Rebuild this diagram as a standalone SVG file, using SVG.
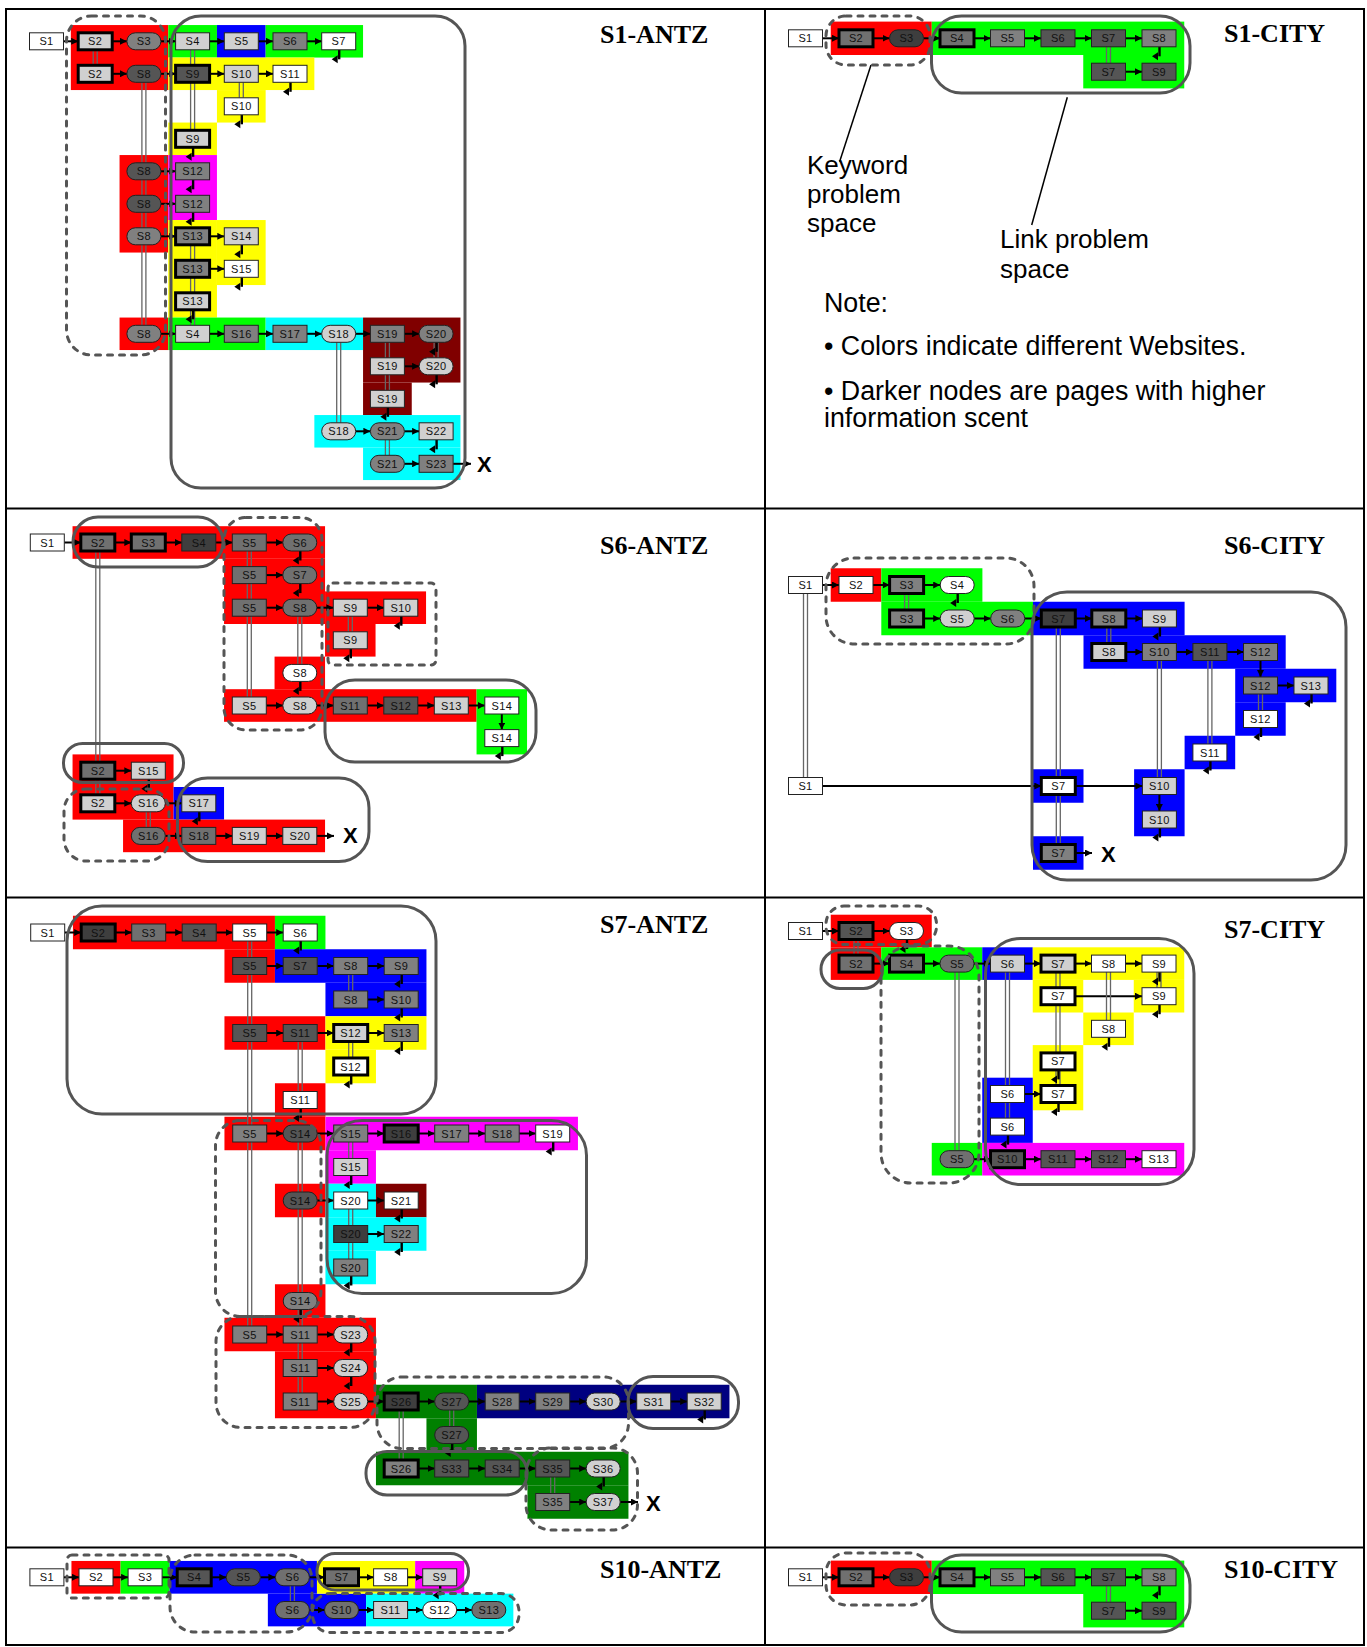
<svg xmlns="http://www.w3.org/2000/svg" xmlns:xlink="http://www.w3.org/1999/xlink" width="1367" height="1647" viewBox="0 0 1367 1647">
<style>
.cr{fill:#ff0000}.cg{fill:#00ff00}.cb{fill:#0000ff}.cy{fill:#ffff00}.cm{fill:#ff00ff}.cc{fill:#00ffff}.cdr{fill:#800000}.cdg{fill:#008000}.cn{fill:#000080}
.n{stroke:#222;stroke-width:1}
.t{stroke:#000;stroke-width:3}
.w{fill:#ffffff}.l{fill:#d0d0d0}.m{fill:#808080}.g{fill:#707070}.d{fill:#555555}.k{fill:#3e3e3e}
.nd text{font-family:"Liberation Sans",Arial,sans-serif;font-size:11px;text-anchor:middle;fill:#111;letter-spacing:0.4px}
.ar{stroke:#000;stroke-width:2;fill:none;marker-end:url(#ah)}
.dl{stroke:#666;stroke-width:1.3;fill:none}
.ds{fill:none;stroke:#555;stroke-width:3;stroke-dasharray:5 7;stroke-linecap:round}
.so{fill:none;stroke:#555;stroke-width:3}
.ti{font-family:"Liberation Serif","Times New Roman",serif;font-weight:bold;font-size:26px;fill:#000}
.an{font-family:"Liberation Sans",Arial,sans-serif;font-size:26px;fill:#000}
.nt{font-family:"Liberation Sans",Arial,sans-serif;font-size:26.8px;fill:#000}
.x{font-family:"Liberation Sans",Arial,sans-serif;font-weight:bold;font-size:22px;fill:#000}
.bd{stroke:#000;stroke-width:2;fill:none}
</style>
<defs>
<marker id="ah" viewBox="0 0 10 10" refX="10" refY="5" markerWidth="7" markerHeight="7" markerUnits="userSpaceOnUse" orient="auto"><path d="M0,0L10,5L0,10z" fill="#000"/></marker>
<rect id="R" x="-17" y="-8.5" width="34" height="17"/>
<rect id="E" x="-17" y="-8.5" width="34" height="17" rx="8.5"/>
<g id="ret"><path d="M0.5,0V9.5" stroke="#000" stroke-width="2.4" fill="none"/><path d="M-7,9.5L-1,5.5V13.5Z" fill="#000"/></g>
</defs>
<rect width="1367" height="1647" fill="#fff"/>

<g id="cells">
<g id="cells-s1antz">
<rect class="cr" x="70.85" y="25.05" width="97.4" height="65"/>
<rect class="cr" x="119.55" y="155.05" width="48.7" height="97.5"/>
<rect class="cr" x="119.55" y="317.55" width="48.7" height="32.5"/>
<rect class="cg" x="168.25" y="25.05" width="48.7" height="32.5"/>
<rect class="cb" x="216.95" y="25.05" width="48.7" height="32.5"/>
<rect class="cg" x="265.65" y="25.05" width="97.4" height="32.5"/>
<rect class="cy" x="168.25" y="57.55" width="146.1" height="32.5"/>
<rect class="cy" x="216.95" y="90.05" width="48.7" height="32.5"/>
<rect class="cy" x="168.25" y="122.55" width="48.7" height="32.5"/>
<rect class="cm" x="168.25" y="155.05" width="48.7" height="65"/>
<rect class="cy" x="168.25" y="220.05" width="48.7" height="97.5"/>
<rect class="cy" x="216.95" y="220.05" width="48.7" height="65"/>
<rect class="cg" x="168.25" y="317.55" width="97.4" height="32.5"/>
<rect class="cc" x="265.65" y="317.55" width="97.4" height="32.5"/>
<rect class="cdr" x="363.05" y="317.55" width="97.4" height="65"/>
<rect class="cdr" x="363.05" y="382.55" width="48.7" height="32.5"/>
<rect class="cc" x="314.35" y="415.05" width="146.1" height="32.5"/>
<rect class="cc" x="363.05" y="447.55" width="97.4" height="32.5"/>
</g>
<g id="cells-s1city">
<rect class="cr" x="830.75" y="21.6" width="101" height="33.4"/>
<rect class="cg" x="931.75" y="21.6" width="252.5" height="33.4"/>
<rect class="cg" x="1083.25" y="55" width="101" height="33.4"/>
</g>
<g id="cells-s10city">
<rect class="cr" x="830.75" y="1560.6" width="101" height="33.4"/>
<rect class="cg" x="931.75" y="1560.6" width="252.5" height="33.4"/>
<rect class="cg" x="1083.25" y="1594" width="101" height="33.4"/>
</g>
<g id="cells-s6antz">
<rect class="cr" x="72.55" y="526.2" width="252.5" height="32.6"/>
<rect class="cr" x="224.05" y="558.8" width="101" height="65.2"/>
<rect class="cr" x="325.05" y="591.4" width="101" height="32.6"/>
<rect class="cr" x="325.05" y="624" width="50.5" height="32.6"/>
<rect class="cr" x="274.55" y="656.6" width="50.5" height="32.6"/>
<rect class="cr" x="224.05" y="689.2" width="252.5" height="32.6"/>
<rect class="cg" x="476.55" y="689.2" width="50.5" height="65.2"/>
<rect class="cr" x="72.55" y="754.4" width="101" height="65.2"/>
<rect class="cb" x="173.55" y="787" width="50.5" height="32.6"/>
<rect class="cr" x="123.05" y="819.6" width="202" height="32.6"/>
</g>
<g id="cells-s6city">
<rect class="cr" x="830.7" y="568.25" width="50.6" height="33.5"/>
<rect class="cg" x="881.3" y="568.25" width="101.1" height="33.5"/>
<rect class="cg" x="881.3" y="601.75" width="151.7" height="33.5"/>
<rect class="cb" x="1033" y="601.75" width="151.6" height="33.5"/>
<rect class="cb" x="1083.5" y="635.25" width="202.2" height="33.5"/>
<rect class="cb" x="1235.2" y="668.75" width="101.1" height="33.5"/>
<rect class="cb" x="1235.2" y="702.25" width="50.5" height="33.5"/>
<rect class="cb" x="1184.6" y="735.75" width="50.6" height="33.5"/>
<rect class="cb" x="1033" y="769.25" width="50.5" height="33.5"/>
<rect class="cb" x="1134.1" y="769.25" width="50.5" height="67"/>
<rect class="cb" x="1033" y="836.25" width="50.5" height="33.5"/>
</g>
<g id="cells-s7antz">
<rect class="cr" x="72.95" y="915.75" width="202" height="33.5"/>
<rect class="cg" x="274.95" y="915.75" width="50.5" height="33.5"/>
<rect class="cr" x="224.45" y="949.25" width="50.5" height="33.5"/>
<rect class="cb" x="274.95" y="949.25" width="151.5" height="33.5"/>
<rect class="cb" x="325.45" y="982.75" width="101" height="33.5"/>
<rect class="cr" x="224.45" y="1016.25" width="101" height="33.5"/>
<rect class="cy" x="325.45" y="1016.25" width="101" height="33.5"/>
<rect class="cy" x="325.45" y="1049.75" width="50.5" height="33.5"/>
<rect class="cr" x="274.95" y="1083.25" width="50.5" height="33.5"/>
<rect class="cr" x="224.45" y="1116.75" width="101" height="33.5"/>
<rect class="cm" x="325.45" y="1116.75" width="252.5" height="33.5"/>
<rect class="cm" x="325.45" y="1150.25" width="50.5" height="33.5"/>
<rect class="cr" x="274.95" y="1183.75" width="50.5" height="33.5"/>
<rect class="cc" x="325.45" y="1183.75" width="50.5" height="33.5"/>
<rect class="cdr" x="375.95" y="1183.75" width="50.5" height="33.5"/>
<rect class="cc" x="325.45" y="1217.25" width="101" height="33.5"/>
<rect class="cc" x="325.45" y="1250.75" width="50.5" height="33.5"/>
<rect class="cr" x="274.95" y="1284.25" width="50.5" height="33.5"/>
<rect class="cr" x="224.45" y="1317.75" width="151.5" height="33.5"/>
<rect class="cr" x="274.95" y="1351.25" width="101" height="67"/>
<rect class="cdg" x="375.95" y="1384.75" width="101" height="33.5"/>
<rect class="cn" x="476.95" y="1384.75" width="252.5" height="33.5"/>
<rect class="cdg" x="426.45" y="1418.25" width="50.5" height="33.5"/>
<rect class="cdg" x="375.95" y="1451.75" width="252.5" height="33.5"/>
<rect class="cdg" x="527.45" y="1485.25" width="101" height="33.5"/>
</g>
<g id="cells-s7city">
<rect class="cr" x="830.75" y="914.7" width="101" height="32.6"/>
<rect class="cr" x="830.75" y="947.3" width="50.5" height="32.6"/>
<rect class="cg" x="881.25" y="947.3" width="101" height="32.6"/>
<rect class="cb" x="982.25" y="947.3" width="50.5" height="32.6"/>
<rect class="cy" x="1032.75" y="947.3" width="151.5" height="32.6"/>
<rect class="cy" x="1032.75" y="979.9" width="50.5" height="32.6"/>
<rect class="cy" x="1133.75" y="979.9" width="50.5" height="32.6"/>
<rect class="cy" x="1083.25" y="1012.5" width="50.5" height="32.6"/>
<rect class="cy" x="1032.75" y="1045.1" width="50.5" height="65.2"/>
<rect class="cb" x="982.25" y="1077.7" width="50.5" height="65.2"/>
<rect class="cg" x="931.75" y="1142.9" width="50.5" height="32.6"/>
<rect class="cm" x="982.25" y="1142.9" width="202" height="32.6"/>
</g>
<g id="cells-s10antz">
<rect class="cr" x="71.45" y="1560.95" width="49.1" height="32.7"/>
<rect class="cg" x="120.55" y="1560.95" width="49.1" height="32.7"/>
<rect class="cb" x="169.65" y="1560.95" width="147.3" height="32.7"/>
<rect class="cb" x="267.85" y="1593.65" width="98.2" height="32.7"/>
<rect class="cy" x="316.95" y="1560.95" width="98.2" height="32.7"/>
<rect class="cm" x="415.15" y="1560.95" width="49.1" height="32.7"/>
<rect class="cc" x="366.05" y="1593.65" width="147.3" height="32.7"/>
</g>
</g>

<g id="connectors">
<g id="conn-s1antz">
<line class="ar" x1="63.5" y1="41.3" x2="78.2" y2="41.3"/><line class="ar" x1="112.2" y1="41.3" x2="126.9" y2="41.3"/><line class="ar" x1="160.9" y1="41.3" x2="175.6" y2="41.3"/><line class="ar" x1="209.6" y1="41.3" x2="224.3" y2="41.3"/><line class="ar" x1="258.3" y1="41.3" x2="273" y2="41.3"/><line class="ar" x1="307" y1="41.3" x2="321.7" y2="41.3"/>
<line class="ar" x1="112.2" y1="73.8" x2="126.9" y2="73.8"/><line class="ar" x1="160.9" y1="73.8" x2="175.6" y2="73.8"/><line class="ar" x1="209.6" y1="73.8" x2="224.3" y2="73.8"/><line class="ar" x1="258.3" y1="73.8" x2="273" y2="73.8"/>
<line class="ar" x1="160.9" y1="171.3" x2="175.6" y2="171.3"/><line class="ar" x1="160.9" y1="203.8" x2="175.6" y2="203.8"/>
<line class="ar" x1="160.9" y1="236.3" x2="175.6" y2="236.3"/><line class="ar" x1="209.6" y1="236.3" x2="224.3" y2="236.3"/><line class="ar" x1="209.6" y1="268.8" x2="224.3" y2="268.8"/>
<line class="ar" x1="160.9" y1="333.8" x2="175.6" y2="333.8"/><line class="ar" x1="209.6" y1="333.8" x2="224.3" y2="333.8"/><line class="ar" x1="258.3" y1="333.8" x2="273" y2="333.8"/><line class="ar" x1="307" y1="333.8" x2="321.7" y2="333.8"/><line class="ar" x1="355.7" y1="333.8" x2="370.4" y2="333.8"/><line class="ar" x1="404.4" y1="333.8" x2="419.1" y2="333.8"/>
<line class="ar" x1="404.4" y1="366.3" x2="419.1" y2="366.3"/>
<line class="ar" x1="355.7" y1="431.3" x2="370.4" y2="431.3"/><line class="ar" x1="404.4" y1="431.3" x2="419.1" y2="431.3"/>
<line class="ar" x1="404.4" y1="463.8" x2="419.1" y2="463.8"/><line class="ar" x1="453.1" y1="463.8" x2="471" y2="463.8"/>
<path class="dl" d="M93.2,49.8V65.3M97.2,49.8V65.3M141.9,82.3V325.3M145.9,82.3V325.3M190.6,49.8V130.3M194.6,49.8V130.3M190.6,244.8V325.3M194.6,244.8V325.3M239.3,82.3V97.8M243.3,82.3V97.8M336.7,342.3V422.8M340.7,342.3V422.8M385.4,342.3V390.3M389.4,342.3V390.3M434.1,342.3V357.8M438.1,342.3V357.8M385.4,439.8V455.3M389.4,439.8V455.3"/>
<use href="#ret" x="338.7" y="49.8"/><use href="#ret" x="290" y="82.3"/><use href="#ret" x="241.3" y="114.8"/><use href="#ret" x="192.6" y="147.3"/><use href="#ret" x="192.6" y="179.8"/><use href="#ret" x="192.6" y="212.3"/><use href="#ret" x="241.3" y="244.8"/><use href="#ret" x="241.3" y="277.3"/><use href="#ret" x="192.6" y="309.8"/><use href="#ret" x="436.1" y="342.3"/><use href="#ret" x="436.1" y="374.8"/><use href="#ret" x="387.4" y="407.3"/><use href="#ret" x="436.1" y="439.8"/>
</g>
<g id="conn-s1city">
<line class="ar" x1="822.5" y1="38.3" x2="839" y2="38.3"/><line class="ar" x1="873" y1="38.3" x2="889.5" y2="38.3"/><line class="ar" x1="923.5" y1="38.3" x2="940" y2="38.3"/><line class="ar" x1="974" y1="38.3" x2="990.5" y2="38.3"/><line class="ar" x1="1024.5" y1="38.3" x2="1041" y2="38.3"/><line class="ar" x1="1075" y1="38.3" x2="1091.5" y2="38.3"/><line class="ar" x1="1125.5" y1="38.3" x2="1142" y2="38.3"/>
<line class="ar" x1="1125.5" y1="71.7" x2="1142" y2="71.7"/>
<path class="dl" d="M1106.5,46.8V63.2M1110.5,46.8V63.2"/>
<use href="#ret" x="1159" y="46.8"/>
<line x1="871" y1="65" x2="839.6" y2="161.7" stroke="#000" stroke-width="1.5"/>
<line x1="1067.3" y1="97.3" x2="1031.7" y2="225" stroke="#000" stroke-width="1.5"/>
</g>
<g id="conn-s10city">
<line class="ar" x1="822.5" y1="1577.3" x2="839" y2="1577.3"/><line class="ar" x1="873" y1="1577.3" x2="889.5" y2="1577.3"/><line class="ar" x1="923.5" y1="1577.3" x2="940" y2="1577.3"/><line class="ar" x1="974" y1="1577.3" x2="990.5" y2="1577.3"/><line class="ar" x1="1024.5" y1="1577.3" x2="1041" y2="1577.3"/><line class="ar" x1="1075" y1="1577.3" x2="1091.5" y2="1577.3"/><line class="ar" x1="1125.5" y1="1577.3" x2="1142" y2="1577.3"/>
<line class="ar" x1="1125.5" y1="1610.7" x2="1142" y2="1610.7"/>
<path class="dl" d="M1106.5,1585.8V1602.2M1110.5,1585.8V1602.2"/>
<use href="#ret" x="1159" y="1585.8"/>
</g>
<g id="conn-s6antz">
<line class="ar" x1="64.3" y1="542.5" x2="80.8" y2="542.5"/><line class="ar" x1="114.8" y1="542.5" x2="131.3" y2="542.5"/><line class="ar" x1="165.3" y1="542.5" x2="181.8" y2="542.5"/><line class="ar" x1="215.8" y1="542.5" x2="232.3" y2="542.5"/><line class="ar" x1="266.3" y1="542.5" x2="282.8" y2="542.5"/>
<line class="ar" x1="266.3" y1="575.1" x2="282.8" y2="575.1"/>
<line class="ar" x1="266.3" y1="607.7" x2="282.8" y2="607.7"/><line class="ar" x1="316.8" y1="607.7" x2="333.3" y2="607.7"/><line class="ar" x1="367.3" y1="607.7" x2="383.8" y2="607.7"/>
<line class="ar" x1="266.3" y1="705.5" x2="282.8" y2="705.5"/><line class="ar" x1="316.8" y1="705.5" x2="333.3" y2="705.5"/><line class="ar" x1="367.3" y1="705.5" x2="383.8" y2="705.5"/><line class="ar" x1="417.8" y1="705.5" x2="434.3" y2="705.5"/><line class="ar" x1="468.3" y1="705.5" x2="484.8" y2="705.5"/>
<line class="ar" x1="501.8" y1="714" x2="501.8" y2="729.6"/>
<line class="ar" x1="114.8" y1="770.7" x2="131.3" y2="770.7"/>
<line class="ar" x1="114.8" y1="803.3" x2="131.3" y2="803.3"/><line class="ar" x1="165.3" y1="803.3" x2="181.8" y2="803.3"/>
<line class="ar" x1="165.3" y1="835.9" x2="181.8" y2="835.9"/><line class="ar" x1="215.8" y1="835.9" x2="232.3" y2="835.9"/><line class="ar" x1="266.3" y1="835.9" x2="282.8" y2="835.9"/><line class="ar" x1="316.8" y1="835.9" x2="334" y2="835.9"/>
<path class="dl" d="M95.8,551V794.8M99.8,551V794.8M247.3,551V697M251.3,551V697M297.8,616.2V664.4M301.8,616.2V664.4M348.3,616.2V631.8M352.3,616.2V631.8M146.3,811.8V827.4M150.3,811.8V827.4"/>
<use href="#ret" x="299.8" y="551"/><use href="#ret" x="299.8" y="583.6"/><use href="#ret" x="400.8" y="616.2"/><use href="#ret" x="350.3" y="648.8"/><use href="#ret" x="299.8" y="681.4"/><use href="#ret" x="501.8" y="746.6"/><use href="#ret" x="148.3" y="779.2"/><use href="#ret" x="198.8" y="811.8"/>
</g>
<g id="conn-s6city">
<line class="ar" x1="822.5" y1="585" x2="839" y2="585"/><line class="ar" x1="873" y1="585" x2="889.6" y2="585"/><line class="ar" x1="923.6" y1="585" x2="940.2" y2="585"/>
<line class="ar" x1="923.6" y1="618.5" x2="940.2" y2="618.5"/><line class="ar" x1="974.2" y1="618.5" x2="990.7" y2="618.5"/><line class="ar" x1="1024.7" y1="618.5" x2="1041.3" y2="618.5"/><line class="ar" x1="1075.3" y1="618.5" x2="1091.8" y2="618.5"/><line class="ar" x1="1125.8" y1="618.5" x2="1142.4" y2="618.5"/>
<line class="ar" x1="1125.8" y1="652" x2="1142.4" y2="652"/><line class="ar" x1="1176.4" y1="652" x2="1192.9" y2="652"/><line class="ar" x1="1226.9" y1="652" x2="1243.5" y2="652"/>
<line class="ar" x1="1277.5" y1="685.5" x2="1294" y2="685.5"/>
<line class="ar" x1="1260.5" y1="660.5" x2="1260.5" y2="677"/>
<line class="ar" x1="822.5" y1="786" x2="1041.3" y2="786"/><line class="ar" x1="1075.3" y1="786" x2="1142.4" y2="786"/>
<line class="ar" x1="1159.4" y1="794.5" x2="1159.4" y2="811"/>
<line class="ar" x1="1075.3" y1="853" x2="1092" y2="853"/>
<path class="dl" d="M803.5,593.5V777.5M807.5,593.5V777.5M904.6,593.5V610M908.6,593.5V610M1056.3,627V844.5M1060.3,627V844.5M1106.8,627V643.5M1110.8,627V643.5M1157.4,660.5V777.5M1161.4,660.5V777.5M1207.9,660.5V744M1211.9,660.5V744M1258.5,694V710.5M1262.5,694V710.5"/>
<use href="#ret" x="957.2" y="593.5"/><use href="#ret" x="1159.4" y="627"/><use href="#ret" x="1311" y="694"/><use href="#ret" x="1260.5" y="727.5"/><use href="#ret" x="1209.9" y="761"/><use href="#ret" x="1159.4" y="828"/>
</g>
<g id="conn-s7antz">
<line class="ar" x1="64.7" y1="932.5" x2="81.2" y2="932.5"/><line class="ar" x1="115.2" y1="932.5" x2="131.7" y2="932.5"/><line class="ar" x1="165.7" y1="932.5" x2="182.2" y2="932.5"/><line class="ar" x1="216.2" y1="932.5" x2="232.7" y2="932.5"/><line class="ar" x1="266.7" y1="932.5" x2="283.2" y2="932.5"/>
<line class="ar" x1="266.7" y1="966" x2="283.2" y2="966"/><line class="ar" x1="317.2" y1="966" x2="333.7" y2="966"/><line class="ar" x1="367.7" y1="966" x2="384.2" y2="966"/>
<line class="ar" x1="367.7" y1="999.5" x2="384.2" y2="999.5"/>
<line class="ar" x1="266.7" y1="1033" x2="283.2" y2="1033"/><line class="ar" x1="317.2" y1="1033" x2="333.7" y2="1033"/><line class="ar" x1="367.7" y1="1033" x2="384.2" y2="1033"/>
<line class="ar" x1="266.7" y1="1133.5" x2="283.2" y2="1133.5"/><line class="ar" x1="317.2" y1="1133.5" x2="333.7" y2="1133.5"/><line class="ar" x1="367.7" y1="1133.5" x2="384.2" y2="1133.5"/><line class="ar" x1="418.2" y1="1133.5" x2="434.7" y2="1133.5"/><line class="ar" x1="468.7" y1="1133.5" x2="485.2" y2="1133.5"/><line class="ar" x1="519.2" y1="1133.5" x2="535.7" y2="1133.5"/>
<line class="ar" x1="317.2" y1="1200.5" x2="333.7" y2="1200.5"/><line class="ar" x1="367.7" y1="1200.5" x2="384.2" y2="1200.5"/>
<line class="ar" x1="367.7" y1="1234" x2="384.2" y2="1234"/>
<line class="ar" x1="266.7" y1="1334.5" x2="283.2" y2="1334.5"/><line class="ar" x1="317.2" y1="1334.5" x2="333.7" y2="1334.5"/>
<line class="ar" x1="317.2" y1="1368" x2="333.7" y2="1368"/>
<line class="ar" x1="317.2" y1="1401.5" x2="333.7" y2="1401.5"/><line class="ar" x1="367.7" y1="1401.5" x2="384.2" y2="1401.5"/><line class="ar" x1="418.2" y1="1401.5" x2="434.7" y2="1401.5"/><line class="ar" x1="468.7" y1="1401.5" x2="485.2" y2="1401.5"/><line class="ar" x1="519.2" y1="1401.5" x2="535.7" y2="1401.5"/><line class="ar" x1="569.7" y1="1401.5" x2="586.2" y2="1401.5"/><line class="ar" x1="620.2" y1="1401.5" x2="636.7" y2="1401.5"/><line class="ar" x1="670.7" y1="1401.5" x2="687.2" y2="1401.5"/>
<line class="ar" x1="418.2" y1="1468.5" x2="434.7" y2="1468.5"/><line class="ar" x1="468.7" y1="1468.5" x2="485.2" y2="1468.5"/><line class="ar" x1="519.2" y1="1468.5" x2="535.7" y2="1468.5"/><line class="ar" x1="569.7" y1="1468.5" x2="586.2" y2="1468.5"/>
<line class="ar" x1="569.7" y1="1502" x2="586.2" y2="1502"/><line class="ar" x1="620.2" y1="1502" x2="638" y2="1502"/>
<path class="dl" d="M247.7,941V1326M251.7,941V1326M298.2,1041.5V1091.5M302.2,1041.5V1091.5M298.2,1142V1393M302.2,1142V1393M348.7,974.5V991M352.7,974.5V991M348.7,1041.5V1058M352.7,1041.5V1058M348.7,1142V1158.5M352.7,1142V1158.5M348.7,1209V1259M352.7,1209V1259M399.2,1410V1460M403.2,1410V1460M449.7,1410V1426.5M453.7,1410V1426.5M550.7,1477V1493.5M554.7,1477V1493.5"/>
<use href="#ret" x="300.2" y="941"/><use href="#ret" x="401.2" y="974.5"/><use href="#ret" x="401.2" y="1008"/><use href="#ret" x="401.2" y="1041.5"/><use href="#ret" x="350.7" y="1075"/><use href="#ret" x="300.2" y="1108.5"/><use href="#ret" x="552.7" y="1142"/><use href="#ret" x="350.7" y="1175.5"/><use href="#ret" x="401.2" y="1209"/><use href="#ret" x="401.2" y="1242.5"/><use href="#ret" x="350.7" y="1276"/><use href="#ret" x="300.2" y="1309.5"/><use href="#ret" x="350.7" y="1343"/><use href="#ret" x="350.7" y="1376.5"/><use href="#ret" x="704.2" y="1410"/><use href="#ret" x="451.7" y="1443.5"/><use href="#ret" x="603.2" y="1477"/>
</g>
<g id="conn-s7city">
<line class="ar" x1="822.5" y1="931" x2="839" y2="931"/><line class="ar" x1="873" y1="931" x2="889.5" y2="931"/>
<line class="ar" x1="873" y1="963.6" x2="889.5" y2="963.6"/><line class="ar" x1="923.5" y1="963.6" x2="940" y2="963.6"/><line class="ar" x1="974" y1="963.6" x2="990.5" y2="963.6"/><line class="ar" x1="1024.5" y1="963.6" x2="1041" y2="963.6"/><line class="ar" x1="1075" y1="963.6" x2="1091.5" y2="963.6"/><line class="ar" x1="1125.5" y1="963.6" x2="1142" y2="963.6"/>
<line class="ar" x1="1075" y1="996.2" x2="1142" y2="996.2"/>
<line class="ar" x1="1024.5" y1="1094" x2="1041" y2="1094"/>
<line class="ar" x1="974" y1="1159.2" x2="990.5" y2="1159.2"/><line class="ar" x1="1024.5" y1="1159.2" x2="1041" y2="1159.2"/><line class="ar" x1="1075" y1="1159.2" x2="1091.5" y2="1159.2"/><line class="ar" x1="1125.5" y1="1159.2" x2="1142" y2="1159.2"/>
<path class="dl" d="M854,939.5V955.1M858,939.5V955.1M955,972.1V1150.7M959,972.1V1150.7M1005.5,972.1V1118.1M1009.5,972.1V1118.1M1056,972.1V1085.5M1060,972.1V1085.5M1106.5,972.1V1020.3M1110.5,972.1V1020.3M1157,972.1V987.7M1161,972.1V987.7"/>
<use href="#ret" x="906.5" y="939.5"/><use href="#ret" x="1159" y="972.1"/><use href="#ret" x="1159" y="1004.7"/><use href="#ret" x="1108.5" y="1037.3"/><use href="#ret" x="1058" y="1069.9"/><use href="#ret" x="1058" y="1102.5"/><use href="#ret" x="1007.5" y="1135.1"/>
</g>
<g id="conn-s10antz">
<line class="ar" x1="63.9" y1="1577.3" x2="79" y2="1577.3"/><line class="ar" x1="113" y1="1577.3" x2="128.1" y2="1577.3"/><line class="ar" x1="162.1" y1="1577.3" x2="177.2" y2="1577.3"/><line class="ar" x1="211.2" y1="1577.3" x2="226.3" y2="1577.3"/><line class="ar" x1="260.3" y1="1577.3" x2="275.4" y2="1577.3"/><line class="ar" x1="309.4" y1="1577.3" x2="324.5" y2="1577.3"/><line class="ar" x1="358.5" y1="1577.3" x2="373.6" y2="1577.3"/><line class="ar" x1="407.6" y1="1577.3" x2="422.7" y2="1577.3"/>
<line class="ar" x1="309.4" y1="1610" x2="324.5" y2="1610"/><line class="ar" x1="358.5" y1="1610" x2="373.6" y2="1610"/><line class="ar" x1="407.6" y1="1610" x2="422.7" y2="1610"/><line class="ar" x1="456.7" y1="1610" x2="471.8" y2="1610"/>
<path class="dl" d="M290.4,1585.8V1601.5M294.4,1585.8V1601.5"/>
<use href="#ret" x="439.7" y="1585.8"/>
</g>
</g>

<g id="nodes">
<g id="nodes-s1antz">
<g id="a01" class="nd" transform="translate(46.5,41.3)"><use href="#R" class="n w"/><text y="4">S1</text></g>
<g id="a02" class="nd" transform="translate(95.2,41.3)"><use href="#R" class="n l t"/><text y="4">S2</text></g>
<g id="a03" class="nd" transform="translate(143.9,41.3)"><use href="#E" class="n m"/><text y="4">S3</text></g>
<g id="a04" class="nd" transform="translate(192.6,41.3)"><use href="#R" class="n l"/><text y="4">S4</text></g>
<g id="a05" class="nd" transform="translate(241.3,41.3)"><use href="#R" class="n l"/><text y="4">S5</text></g>
<g id="a06" class="nd" transform="translate(290,41.3)"><use href="#R" class="n m"/><text y="4">S6</text></g>
<g id="a07" class="nd" transform="translate(338.7,41.3)"><use href="#R" class="n w"/><text y="4">S7</text></g>
<g id="a08" class="nd" transform="translate(95.2,73.8)"><use href="#R" class="n l t"/><text y="4">S2</text></g>
<g id="a09" class="nd" transform="translate(143.9,73.8)"><use href="#E" class="n d"/><text y="4">S8</text></g>
<g id="a10" class="nd" transform="translate(192.6,73.8)"><use href="#R" class="n d t"/><text y="4">S9</text></g>
<g id="a11" class="nd" transform="translate(241.3,73.8)"><use href="#R" class="n l"/><text y="4">S10</text></g>
<g id="a12" class="nd" transform="translate(290,73.8)"><use href="#R" class="n w"/><text y="4">S11</text></g>
<g id="a13" class="nd" transform="translate(241.3,106.3)"><use href="#R" class="n w"/><text y="4">S10</text></g>
<g id="a14" class="nd" transform="translate(192.6,138.8)"><use href="#R" class="n l t"/><text y="4">S9</text></g>
<g id="a15" class="nd" transform="translate(143.9,171.3)"><use href="#E" class="n d"/><text y="4">S8</text></g>
<g id="a16" class="nd" transform="translate(192.6,171.3)"><use href="#R" class="n m"/><text y="4">S12</text></g>
<g id="a17" class="nd" transform="translate(143.9,203.8)"><use href="#E" class="n d"/><text y="4">S8</text></g>
<g id="a18" class="nd" transform="translate(192.6,203.8)"><use href="#R" class="n m"/><text y="4">S12</text></g>
<g id="a19" class="nd" transform="translate(143.9,236.3)"><use href="#E" class="n m"/><text y="4">S8</text></g>
<g id="a20" class="nd" transform="translate(192.6,236.3)"><use href="#R" class="n m t"/><text y="4">S13</text></g>
<g id="a21" class="nd" transform="translate(241.3,236.3)"><use href="#R" class="n l"/><text y="4">S14</text></g>
<g id="a22" class="nd" transform="translate(192.6,268.8)"><use href="#R" class="n m t"/><text y="4">S13</text></g>
<g id="a23" class="nd" transform="translate(241.3,268.8)"><use href="#R" class="n w"/><text y="4">S15</text></g>
<g id="a24" class="nd" transform="translate(192.6,301.3)"><use href="#R" class="n l t"/><text y="4">S13</text></g>
<g id="a25" class="nd" transform="translate(143.9,333.8)"><use href="#E" class="n m"/><text y="4">S8</text></g>
<g id="a26" class="nd" transform="translate(192.6,333.8)"><use href="#R" class="n l"/><text y="4">S4</text></g>
<g id="a27" class="nd" transform="translate(241.3,333.8)"><use href="#R" class="n m"/><text y="4">S16</text></g>
<g id="a28" class="nd" transform="translate(290,333.8)"><use href="#R" class="n m"/><text y="4">S17</text></g>
<g id="a29" class="nd" transform="translate(338.7,333.8)"><use href="#E" class="n l"/><text y="4">S18</text></g>
<g id="a30" class="nd" transform="translate(387.4,333.8)"><use href="#R" class="n m"/><text y="4">S19</text></g>
<g id="a31" class="nd" transform="translate(436.1,333.8)"><use href="#E" class="n m"/><text y="4">S20</text></g>
<g id="a32" class="nd" transform="translate(387.4,366.3)"><use href="#R" class="n l"/><text y="4">S19</text></g>
<g id="a33" class="nd" transform="translate(436.1,366.3)"><use href="#E" class="n l"/><text y="4">S20</text></g>
<g id="a34" class="nd" transform="translate(387.4,398.8)"><use href="#R" class="n l"/><text y="4">S19</text></g>
<g id="a35" class="nd" transform="translate(338.7,431.3)"><use href="#E" class="n l"/><text y="4">S18</text></g>
<g id="a36" class="nd" transform="translate(387.4,431.3)"><use href="#E" class="n m"/><text y="4">S21</text></g>
<g id="a37" class="nd" transform="translate(436.1,431.3)"><use href="#R" class="n l"/><text y="4">S22</text></g>
<g id="a38" class="nd" transform="translate(387.4,463.8)"><use href="#E" class="n m"/><text y="4">S21</text></g>
<g id="a39" class="nd" transform="translate(436.1,463.8)"><use href="#R" class="n m"/><text y="4">S23</text></g>
</g>
<g id="nodes-s1city">
<g id="b01" class="nd" transform="translate(805.5,38.3)"><use href="#R" class="n w"/><text y="4">S1</text></g>
<g id="b02" class="nd" transform="translate(856,38.3)"><use href="#R" class="n g t"/><text y="4">S2</text></g>
<g id="b03" class="nd" transform="translate(906.5,38.3)"><use href="#E" class="n k"/><text y="4">S3</text></g>
<g id="b04" class="nd" transform="translate(957,38.3)"><use href="#R" class="n g t"/><text y="4">S4</text></g>
<g id="b05" class="nd" transform="translate(1007.5,38.3)"><use href="#R" class="n m"/><text y="4">S5</text></g>
<g id="b06" class="nd" transform="translate(1058,38.3)"><use href="#R" class="n d"/><text y="4">S6</text></g>
<g id="b07" class="nd" transform="translate(1108.5,38.3)"><use href="#R" class="n d"/><text y="4">S7</text></g>
<g id="b08" class="nd" transform="translate(1159,38.3)"><use href="#R" class="n m"/><text y="4">S8</text></g>
<g id="b09" class="nd" transform="translate(1108.5,71.7)"><use href="#R" class="n d"/><text y="4">S7</text></g>
<g id="b10" class="nd" transform="translate(1159,71.7)"><use href="#R" class="n d"/><text y="4">S9</text></g>
</g>
<g id="nodes-s10city">
<g id="h01" class="nd" transform="translate(805.5,1577.3)"><use href="#R" class="n w"/><text y="4">S1</text></g>
<g id="h02" class="nd" transform="translate(856,1577.3)"><use href="#R" class="n g t"/><text y="4">S2</text></g>
<g id="h03" class="nd" transform="translate(906.5,1577.3)"><use href="#E" class="n k"/><text y="4">S3</text></g>
<g id="h04" class="nd" transform="translate(957,1577.3)"><use href="#R" class="n g t"/><text y="4">S4</text></g>
<g id="h05" class="nd" transform="translate(1007.5,1577.3)"><use href="#R" class="n m"/><text y="4">S5</text></g>
<g id="h06" class="nd" transform="translate(1058,1577.3)"><use href="#R" class="n d"/><text y="4">S6</text></g>
<g id="h07" class="nd" transform="translate(1108.5,1577.3)"><use href="#R" class="n d"/><text y="4">S7</text></g>
<g id="h08" class="nd" transform="translate(1159,1577.3)"><use href="#R" class="n m"/><text y="4">S8</text></g>
<g id="h09" class="nd" transform="translate(1108.5,1610.7)"><use href="#R" class="n d"/><text y="4">S7</text></g>
<g id="h10" class="nd" transform="translate(1159,1610.7)"><use href="#R" class="n d"/><text y="4">S9</text></g>
</g>
<g id="nodes-s6antz">
<g id="c01" class="nd" transform="translate(47.3,542.5)"><use href="#R" class="n w"/><text y="4">S1</text></g>
<g id="c02" class="nd" transform="translate(97.8,542.5)"><use href="#R" class="n g t"/><text y="4">S2</text></g>
<g id="c03" class="nd" transform="translate(148.3,542.5)"><use href="#R" class="n g t"/><text y="4">S3</text></g>
<g id="c04" class="nd" transform="translate(198.8,542.5)"><use href="#R" class="n k"/><text y="4">S4</text></g>
<g id="c05" class="nd" transform="translate(249.3,542.5)"><use href="#R" class="n g"/><text y="4">S5</text></g>
<g id="c06" class="nd" transform="translate(299.8,542.5)"><use href="#E" class="n g"/><text y="4">S6</text></g>
<g id="c07" class="nd" transform="translate(249.3,575.1)"><use href="#R" class="n g"/><text y="4">S5</text></g>
<g id="c08" class="nd" transform="translate(299.8,575.1)"><use href="#E" class="n g"/><text y="4">S7</text></g>
<g id="c09" class="nd" transform="translate(249.3,607.7)"><use href="#R" class="n g"/><text y="4">S5</text></g>
<g id="c10" class="nd" transform="translate(299.8,607.7)"><use href="#E" class="n g"/><text y="4">S8</text></g>
<g id="c11" class="nd" transform="translate(350.3,607.7)"><use href="#R" class="n l"/><text y="4">S9</text></g>
<g id="c12" class="nd" transform="translate(400.8,607.7)"><use href="#R" class="n l"/><text y="4">S10</text></g>
<g id="c13" class="nd" transform="translate(350.3,640.3)"><use href="#R" class="n l"/><text y="4">S9</text></g>
<g id="c14" class="nd" transform="translate(299.8,672.9)"><use href="#E" class="n w"/><text y="4">S8</text></g>
<g id="c15" class="nd" transform="translate(249.3,705.5)"><use href="#R" class="n l"/><text y="4">S5</text></g>
<g id="c16" class="nd" transform="translate(299.8,705.5)"><use href="#E" class="n l"/><text y="4">S8</text></g>
<g id="c17" class="nd" transform="translate(350.3,705.5)"><use href="#R" class="n g"/><text y="4">S11</text></g>
<g id="c18" class="nd" transform="translate(400.8,705.5)"><use href="#R" class="n d"/><text y="4">S12</text></g>
<g id="c19" class="nd" transform="translate(451.3,705.5)"><use href="#R" class="n l"/><text y="4">S13</text></g>
<g id="c20" class="nd" transform="translate(501.8,705.5)"><use href="#R" class="n w"/><text y="4">S14</text></g>
<g id="c21" class="nd" transform="translate(501.8,738.1)"><use href="#R" class="n w"/><text y="4">S14</text></g>
<g id="c22" class="nd" transform="translate(97.8,770.7)"><use href="#R" class="n g t"/><text y="4">S2</text></g>
<g id="c23" class="nd" transform="translate(148.3,770.7)"><use href="#R" class="n l"/><text y="4">S15</text></g>
<g id="c24" class="nd" transform="translate(97.8,803.3)"><use href="#R" class="n l t"/><text y="4">S2</text></g>
<g id="c25" class="nd" transform="translate(148.3,803.3)"><use href="#E" class="n l"/><text y="4">S16</text></g>
<g id="c26" class="nd" transform="translate(198.8,803.3)"><use href="#R" class="n l"/><text y="4">S17</text></g>
<g id="c27" class="nd" transform="translate(148.3,835.9)"><use href="#E" class="n g"/><text y="4">S16</text></g>
<g id="c28" class="nd" transform="translate(198.8,835.9)"><use href="#R" class="n g"/><text y="4">S18</text></g>
<g id="c29" class="nd" transform="translate(249.3,835.9)"><use href="#R" class="n l"/><text y="4">S19</text></g>
<g id="c30" class="nd" transform="translate(299.8,835.9)"><use href="#R" class="n l"/><text y="4">S20</text></g>
</g>
<g id="nodes-s6city">
<g id="d01" class="nd" transform="translate(805.5,585)"><use href="#R" class="n w"/><text y="4">S1</text></g>
<g id="d02" class="nd" transform="translate(856,585)"><use href="#R" class="n w"/><text y="4">S2</text></g>
<g id="d03" class="nd" transform="translate(906.6,585)"><use href="#R" class="n m t"/><text y="4">S3</text></g>
<g id="d04" class="nd" transform="translate(957.2,585)"><use href="#E" class="n w"/><text y="4">S4</text></g>
<g id="d05" class="nd" transform="translate(906.6,618.5)"><use href="#R" class="n m t"/><text y="4">S3</text></g>
<g id="d06" class="nd" transform="translate(957.2,618.5)"><use href="#E" class="n l"/><text y="4">S5</text></g>
<g id="d07" class="nd" transform="translate(1007.7,618.5)"><use href="#E" class="n m"/><text y="4">S6</text></g>
<g id="d08" class="nd" transform="translate(1058.3,618.5)"><use href="#R" class="n k t"/><text y="4">S7</text></g>
<g id="d09" class="nd" transform="translate(1108.8,618.5)"><use href="#R" class="n m t"/><text y="4">S8</text></g>
<g id="d10" class="nd" transform="translate(1159.4,618.5)"><use href="#R" class="n l"/><text y="4">S9</text></g>
<g id="d11" class="nd" transform="translate(1108.8,652)"><use href="#R" class="n l t"/><text y="4">S8</text></g>
<g id="d12" class="nd" transform="translate(1159.4,652)"><use href="#R" class="n m"/><text y="4">S10</text></g>
<g id="d13" class="nd" transform="translate(1209.9,652)"><use href="#R" class="n d"/><text y="4">S11</text></g>
<g id="d14" class="nd" transform="translate(1260.5,652)"><use href="#R" class="n m"/><text y="4">S12</text></g>
<g id="d15" class="nd" transform="translate(1260.5,685.5)"><use href="#R" class="n m"/><text y="4">S12</text></g>
<g id="d16" class="nd" transform="translate(1311,685.5)"><use href="#R" class="n l"/><text y="4">S13</text></g>
<g id="d17" class="nd" transform="translate(1260.5,719)"><use href="#R" class="n w"/><text y="4">S12</text></g>
<g id="d18" class="nd" transform="translate(1209.9,752.5)"><use href="#R" class="n w"/><text y="4">S11</text></g>
<g id="d19" class="nd" transform="translate(805.5,786)"><use href="#R" class="n w"/><text y="4">S1</text></g>
<g id="d20" class="nd" transform="translate(1058.3,786)"><use href="#R" class="n w t"/><text y="4">S7</text></g>
<g id="d21" class="nd" transform="translate(1159.4,786)"><use href="#R" class="n l"/><text y="4">S10</text></g>
<g id="d22" class="nd" transform="translate(1159.4,819.5)"><use href="#R" class="n l"/><text y="4">S10</text></g>
<g id="d23" class="nd" transform="translate(1058.3,853)"><use href="#R" class="n m t"/><text y="4">S7</text></g>
</g>
<g id="nodes-s7antz">
<g id="e01" class="nd" transform="translate(47.7,932.5)"><use href="#R" class="n w"/><text y="4">S1</text></g>
<g id="e02" class="nd" transform="translate(98.2,932.5)"><use href="#R" class="n k t"/><text y="4">S2</text></g>
<g id="e03" class="nd" transform="translate(148.7,932.5)"><use href="#R" class="n g"/><text y="4">S3</text></g>
<g id="e04" class="nd" transform="translate(199.2,932.5)"><use href="#R" class="n d"/><text y="4">S4</text></g>
<g id="e05" class="nd" transform="translate(249.7,932.5)"><use href="#R" class="n w"/><text y="4">S5</text></g>
<g id="e06" class="nd" transform="translate(300.2,932.5)"><use href="#R" class="n w"/><text y="4">S6</text></g>
<g id="e07" class="nd" transform="translate(249.7,966)"><use href="#R" class="n d"/><text y="4">S5</text></g>
<g id="e08" class="nd" transform="translate(300.2,966)"><use href="#R" class="n d"/><text y="4">S7</text></g>
<g id="e09" class="nd" transform="translate(350.7,966)"><use href="#R" class="n m"/><text y="4">S8</text></g>
<g id="e10" class="nd" transform="translate(401.2,966)"><use href="#R" class="n m"/><text y="4">S9</text></g>
<g id="e11" class="nd" transform="translate(350.7,999.5)"><use href="#R" class="n m"/><text y="4">S8</text></g>
<g id="e12" class="nd" transform="translate(401.2,999.5)"><use href="#R" class="n m"/><text y="4">S10</text></g>
<g id="e13" class="nd" transform="translate(249.7,1033)"><use href="#R" class="n d"/><text y="4">S5</text></g>
<g id="e14" class="nd" transform="translate(300.2,1033)"><use href="#R" class="n d"/><text y="4">S11</text></g>
<g id="e15" class="nd" transform="translate(350.7,1033)"><use href="#R" class="n l t"/><text y="4">S12</text></g>
<g id="e16" class="nd" transform="translate(401.2,1033)"><use href="#R" class="n m"/><text y="4">S13</text></g>
<g id="e17" class="nd" transform="translate(350.7,1066.5)"><use href="#R" class="n w t"/><text y="4">S12</text></g>
<g id="e18" class="nd" transform="translate(300.2,1100)"><use href="#R" class="n w"/><text y="4">S11</text></g>
<g id="e19" class="nd" transform="translate(249.7,1133.5)"><use href="#R" class="n m"/><text y="4">S5</text></g>
<g id="e20" class="nd" transform="translate(300.2,1133.5)"><use href="#E" class="n d"/><text y="4">S14</text></g>
<g id="e21" class="nd" transform="translate(350.7,1133.5)"><use href="#R" class="n m"/><text y="4">S15</text></g>
<g id="e22" class="nd" transform="translate(401.2,1133.5)"><use href="#R" class="n k t"/><text y="4">S16</text></g>
<g id="e23" class="nd" transform="translate(451.7,1133.5)"><use href="#R" class="n m"/><text y="4">S17</text></g>
<g id="e24" class="nd" transform="translate(502.2,1133.5)"><use href="#R" class="n m"/><text y="4">S18</text></g>
<g id="e25" class="nd" transform="translate(552.7,1133.5)"><use href="#R" class="n w"/><text y="4">S19</text></g>
<g id="e26" class="nd" transform="translate(350.7,1167)"><use href="#R" class="n l"/><text y="4">S15</text></g>
<g id="e27" class="nd" transform="translate(300.2,1200.5)"><use href="#E" class="n d"/><text y="4">S14</text></g>
<g id="e28" class="nd" transform="translate(350.7,1200.5)"><use href="#R" class="n w"/><text y="4">S20</text></g>
<g id="e29" class="nd" transform="translate(401.2,1200.5)"><use href="#R" class="n w"/><text y="4">S21</text></g>
<g id="e30" class="nd" transform="translate(350.7,1234)"><use href="#R" class="n k"/><text y="4">S20</text></g>
<g id="e31" class="nd" transform="translate(401.2,1234)"><use href="#R" class="n m"/><text y="4">S22</text></g>
<g id="e32" class="nd" transform="translate(350.7,1267.5)"><use href="#R" class="n m"/><text y="4">S20</text></g>
<g id="e33" class="nd" transform="translate(300.2,1301)"><use href="#E" class="n m"/><text y="4">S14</text></g>
<g id="e34" class="nd" transform="translate(249.7,1334.5)"><use href="#R" class="n m"/><text y="4">S5</text></g>
<g id="e35" class="nd" transform="translate(300.2,1334.5)"><use href="#R" class="n m"/><text y="4">S11</text></g>
<g id="e36" class="nd" transform="translate(350.7,1334.5)"><use href="#E" class="n l"/><text y="4">S23</text></g>
<g id="e37" class="nd" transform="translate(300.2,1368)"><use href="#R" class="n m"/><text y="4">S11</text></g>
<g id="e38" class="nd" transform="translate(350.7,1368)"><use href="#E" class="n l"/><text y="4">S24</text></g>
<g id="e39" class="nd" transform="translate(300.2,1401.5)"><use href="#R" class="n m"/><text y="4">S11</text></g>
<g id="e40" class="nd" transform="translate(350.7,1401.5)"><use href="#E" class="n l"/><text y="4">S25</text></g>
<g id="e41" class="nd" transform="translate(401.2,1401.5)"><use href="#R" class="n k t"/><text y="4">S26</text></g>
<g id="e42" class="nd" transform="translate(451.7,1401.5)"><use href="#E" class="n d"/><text y="4">S27</text></g>
<g id="e43" class="nd" transform="translate(502.2,1401.5)"><use href="#R" class="n m"/><text y="4">S28</text></g>
<g id="e44" class="nd" transform="translate(552.7,1401.5)"><use href="#R" class="n m"/><text y="4">S29</text></g>
<g id="e45" class="nd" transform="translate(603.2,1401.5)"><use href="#E" class="n l"/><text y="4">S30</text></g>
<g id="e46" class="nd" transform="translate(653.7,1401.5)"><use href="#R" class="n l"/><text y="4">S31</text></g>
<g id="e47" class="nd" transform="translate(704.2,1401.5)"><use href="#R" class="n l"/><text y="4">S32</text></g>
<g id="e48" class="nd" transform="translate(451.7,1435)"><use href="#E" class="n d"/><text y="4">S27</text></g>
<g id="e49" class="nd" transform="translate(401.2,1468.5)"><use href="#R" class="n m t"/><text y="4">S26</text></g>
<g id="e50" class="nd" transform="translate(451.7,1468.5)"><use href="#R" class="n d"/><text y="4">S33</text></g>
<g id="e51" class="nd" transform="translate(502.2,1468.5)"><use href="#R" class="n d"/><text y="4">S34</text></g>
<g id="e52" class="nd" transform="translate(552.7,1468.5)"><use href="#R" class="n d"/><text y="4">S35</text></g>
<g id="e53" class="nd" transform="translate(603.2,1468.5)"><use href="#E" class="n l"/><text y="4">S36</text></g>
<g id="e54" class="nd" transform="translate(552.7,1502)"><use href="#R" class="n m"/><text y="4">S35</text></g>
<g id="e55" class="nd" transform="translate(603.2,1502)"><use href="#E" class="n l"/><text y="4">S37</text></g>
</g>
<g id="nodes-s7city">
<g id="f01" class="nd" transform="translate(805.5,931)"><use href="#R" class="n w"/><text y="4">S1</text></g>
<g id="f02" class="nd" transform="translate(856,931)"><use href="#R" class="n d t"/><text y="4">S2</text></g>
<g id="f03" class="nd" transform="translate(906.5,931)"><use href="#E" class="n w"/><text y="4">S3</text></g>
<g id="f04" class="nd" transform="translate(856,963.6)"><use href="#R" class="n g t"/><text y="4">S2</text></g>
<g id="f05" class="nd" transform="translate(906.5,963.6)"><use href="#R" class="n g t"/><text y="4">S4</text></g>
<g id="f06" class="nd" transform="translate(957,963.6)"><use href="#E" class="n g"/><text y="4">S5</text></g>
<g id="f07" class="nd" transform="translate(1007.5,963.6)"><use href="#R" class="n l"/><text y="4">S6</text></g>
<g id="f08" class="nd" transform="translate(1058,963.6)"><use href="#R" class="n l t"/><text y="4">S7</text></g>
<g id="f09" class="nd" transform="translate(1108.5,963.6)"><use href="#R" class="n w"/><text y="4">S8</text></g>
<g id="f10" class="nd" transform="translate(1159,963.6)"><use href="#R" class="n w"/><text y="4">S9</text></g>
<g id="f11" class="nd" transform="translate(1058,996.2)"><use href="#R" class="n w t"/><text y="4">S7</text></g>
<g id="f12" class="nd" transform="translate(1159,996.2)"><use href="#R" class="n w"/><text y="4">S9</text></g>
<g id="f13" class="nd" transform="translate(1108.5,1028.8)"><use href="#R" class="n w"/><text y="4">S8</text></g>
<g id="f14" class="nd" transform="translate(1058,1061.4)"><use href="#R" class="n w t"/><text y="4">S7</text></g>
<g id="f15" class="nd" transform="translate(1007.5,1094)"><use href="#R" class="n w"/><text y="4">S6</text></g>
<g id="f16" class="nd" transform="translate(1058,1094)"><use href="#R" class="n w t"/><text y="4">S7</text></g>
<g id="f17" class="nd" transform="translate(1007.5,1126.6)"><use href="#R" class="n w"/><text y="4">S6</text></g>
<g id="f18" class="nd" transform="translate(957,1159.2)"><use href="#E" class="n g"/><text y="4">S5</text></g>
<g id="f19" class="nd" transform="translate(1007.5,1159.2)"><use href="#R" class="n d t"/><text y="4">S10</text></g>
<g id="f20" class="nd" transform="translate(1058,1159.2)"><use href="#R" class="n d"/><text y="4">S11</text></g>
<g id="f21" class="nd" transform="translate(1108.5,1159.2)"><use href="#R" class="n d"/><text y="4">S12</text></g>
<g id="f22" class="nd" transform="translate(1159,1159.2)"><use href="#R" class="n w"/><text y="4">S13</text></g>
</g>
<g id="nodes-s10antz">
<g id="g01" class="nd" transform="translate(46.9,1577.3)"><use href="#R" class="n w"/><text y="4">S1</text></g>
<g id="g02" class="nd" transform="translate(96,1577.3)"><use href="#R" class="n w"/><text y="4">S2</text></g>
<g id="g03" class="nd" transform="translate(145.1,1577.3)"><use href="#R" class="n w"/><text y="4">S3</text></g>
<g id="g04" class="nd" transform="translate(194.2,1577.3)"><use href="#R" class="n d t"/><text y="4">S4</text></g>
<g id="g05" class="nd" transform="translate(243.3,1577.3)"><use href="#E" class="n d"/><text y="4">S5</text></g>
<g id="g06" class="nd" transform="translate(292.4,1577.3)"><use href="#E" class="n g"/><text y="4">S6</text></g>
<g id="g07" class="nd" transform="translate(341.5,1577.3)"><use href="#R" class="n g t"/><text y="4">S7</text></g>
<g id="g08" class="nd" transform="translate(390.6,1577.3)"><use href="#R" class="n w"/><text y="4">S8</text></g>
<g id="g09" class="nd" transform="translate(439.7,1577.3)"><use href="#R" class="n l"/><text y="4">S9</text></g>
<g id="g10" class="nd" transform="translate(292.4,1610)"><use href="#E" class="n g"/><text y="4">S6</text></g>
<g id="g11" class="nd" transform="translate(341.5,1610)"><use href="#E" class="n g"/><text y="4">S10</text></g>
<g id="g12" class="nd" transform="translate(390.6,1610)"><use href="#R" class="n l"/><text y="4">S11</text></g>
<g id="g13" class="nd" transform="translate(439.7,1610)"><use href="#E" class="n w"/><text y="4">S12</text></g>
<g id="g14" class="nd" transform="translate(488.8,1610)"><use href="#E" class="n g"/><text y="4">S13</text></g>
</g>
</g>

<g id="outlines">
<rect class="ds" x="66.5" y="16" width="99" height="339" rx="25"/>
<rect class="so" x="171" y="16" width="294" height="472" rx="30"/>
<rect class="ds" x="826" y="16" width="104" height="49" rx="20"/>
<rect class="so" x="931.5" y="16" width="258.5" height="77" rx="30"/>
<rect class="ds" x="826" y="1553" width="104" height="52" rx="20"/>
<rect class="so" x="931.5" y="1555" width="258.5" height="77" rx="30"/>
<rect class="so" x="73" y="517" width="150" height="50" rx="25"/>
<rect class="ds" x="224" y="517.5" width="98" height="212.5" rx="22"/>
<rect class="ds" x="328" y="583" width="108" height="82" rx="5"/>
<rect class="so" x="325" y="680" width="211" height="82" rx="30"/>
<rect class="so" x="63.5" y="743.5" width="120" height="39" rx="19"/>
<rect class="ds" x="64" y="789" width="105" height="72" rx="22"/>
<rect class="so" x="177.5" y="778" width="191.5" height="83.5" rx="30"/>
<rect class="ds" x="826" y="558" width="208" height="86" rx="28"/>
<rect class="so" x="1032" y="592" width="314" height="288" rx="35"/>
<rect class="so" x="67" y="906" width="369" height="208" rx="35"/>
<rect class="so" x="327" y="1120.5" width="259.5" height="173" rx="35"/>
<rect class="ds" x="215.5" y="1120.5" width="105.5" height="196" rx="25"/>
<rect class="ds" x="216" y="1316.5" width="159" height="111" rx="25"/>
<rect class="ds" x="377" y="1377" width="251.5" height="71.5" rx="25"/>
<rect class="so" x="628" y="1376.5" width="110.5" height="52" rx="25"/>
<rect class="so" x="366" y="1451.5" width="161" height="43.5" rx="21"/>
<rect class="ds" x="526" y="1448" width="111.5" height="82" rx="25"/>
<rect class="ds" x="826" y="906" width="110.5" height="38.5" rx="18"/>
<rect class="so" x="821" y="950" width="61.5" height="38.5" rx="19"/>
<rect class="ds" x="881" y="946" width="98" height="237" rx="30"/>
<rect class="so" x="985.5" y="938.5" width="208.5" height="246" rx="35"/>
<rect class="ds" x="67" y="1555" width="102" height="43" rx="5"/>
<rect class="ds" x="170" y="1555" width="142" height="77" rx="25"/>
<rect class="so" x="317" y="1553.5" width="151.5" height="36.5" rx="18"/>
<rect class="ds" x="312.5" y="1593.5" width="206.5" height="39" rx="18"/>
</g>

<g id="labels">
<text class="x" x="477" y="472">X</text>
<text class="x" x="343" y="843">X</text>
<text class="x" x="1101" y="862">X</text>
<text class="x" x="646" y="1511">X</text>
<text class="ti" x="600" y="43">S1-ANTZ</text>
<text class="ti" x="1224" y="42">S1-CITY</text>
<text class="ti" x="600" y="554">S6-ANTZ</text>
<text class="ti" x="1224" y="554">S6-CITY</text>
<text class="ti" x="600" y="933">S7-ANTZ</text>
<text class="ti" x="1224" y="938">S7-CITY</text>
<text class="ti" x="600" y="1578">S10-ANTZ</text>
<text class="ti" x="1224" y="1578">S10-CITY</text>
<text class="an" x="807" y="174">Keyword</text>
<text class="an" x="807" y="203">problem</text>
<text class="an" x="807" y="232">space</text>
<text class="an" x="1000" y="248">Link problem</text>
<text class="an" x="1000" y="278">space</text>
<text class="nt" x="824" y="312">Note:</text>
<text class="nt" x="824" y="355">• Colors indicate different Websites.</text>
<text class="nt" x="824" y="400">• Darker nodes are pages with higher</text>
<text class="nt" x="824" y="427">information scent</text>
</g>

<g id="frame">
<rect class="bd" x="6" y="9" width="1358" height="1636"/>
<line class="bd" x1="765" y1="9" x2="765" y2="1645"/>
<line class="bd" x1="6" y1="508.5" x2="1364" y2="508.5"/>
<line class="bd" x1="6" y1="897.5" x2="1364" y2="897.5"/>
<line class="bd" x1="6" y1="1547.5" x2="1364" y2="1547.5"/>
</g>
</svg>
